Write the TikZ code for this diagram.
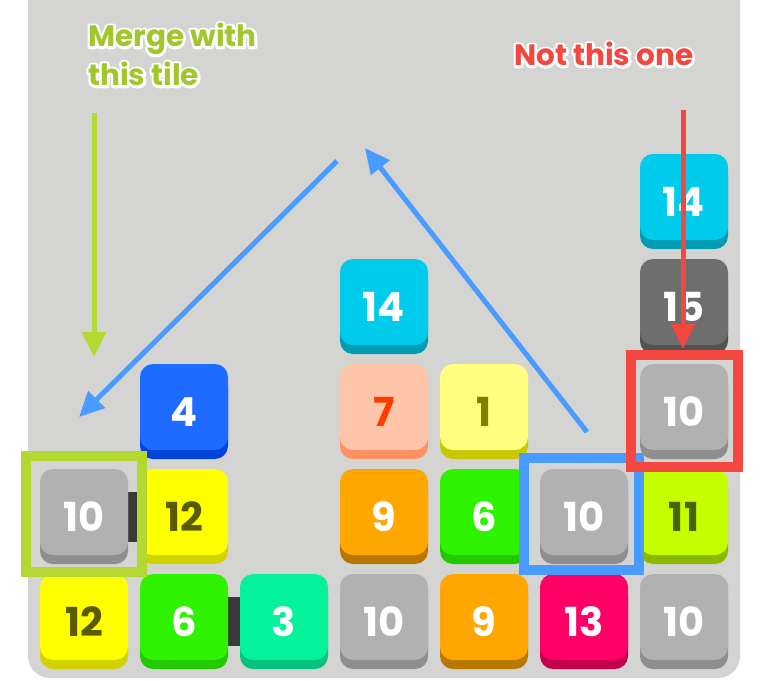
\documentclass[tikz,border=0pt]{standalone}
\usepackage{fontspec}
\setmainfont{Poppins}
\usetikzlibrary{arrows.meta}
\definecolor{board}{HTML}{D4D5D2}
\definecolor{gry}{HTML}{B1B1B1}\definecolor{gryd}{HTML}{8E8E8E}
\definecolor{dgry}{HTML}{6E6E6E}\definecolor{dgryd}{HTML}{525252}
\definecolor{cyn}{HTML}{00CBEB}\definecolor{cynd}{HTML}{009CB4}
\definecolor{blu}{HTML}{1F6BFF}\definecolor{blud}{HTML}{0344D8}
\definecolor{pch}{HTML}{FFC5A8}\definecolor{pchd}{HTML}{FF9062}
\definecolor{lyel}{HTML}{FFFF80}\definecolor{lyeld}{HTML}{C8C800}
\definecolor{yel}{HTML}{FFFF00}\definecolor{yeld}{HTML}{D2D200}
\definecolor{org}{HTML}{FFA600}\definecolor{orgd}{HTML}{B87800}
\definecolor{grn}{HTML}{2EF200}\definecolor{grnd}{HTML}{22C800}
\definecolor{mnt}{HTML}{05F29B}\definecolor{mntd}{HTML}{06C282}
\definecolor{pnk}{HTML}{FF0066}\definecolor{pnkd}{HTML}{C2004E}
\definecolor{lim}{HTML}{C4FF00}\definecolor{limd}{HTML}{8DB800}
\definecolor{olv}{HTML}{5A5A00}\definecolor{olv2}{HTML}{808000}
\definecolor{olv3}{HTML}{4A6400}\definecolor{rednum}{HTML}{FF3C00}
\definecolor{mergegreen}{HTML}{A2C72C}\definecolor{arrowgreen}{HTML}{B4D832}
\definecolor{arrowblue}{HTML}{4A9BFF}\definecolor{arrowred}{HTML}{F4473F}
\definecolor{bar}{HTML}{3A3A3A}
% tile: (column,row)(face:shadow:text){number}
\def\tile(#1,#2)(#3:#4:#5)#6{%
	\fill[#4, rounded corners=13] ({40+100*#1},{583-105*#2}) rectangle ({128+100*#1},{669-105*#2});
	\fill[#3, rounded corners=13] ({40+100*#1},{574-105*#2}) rectangle ({128+100*#1},{660-105*#2});
	\node[tilenum, text=#5] (t#1#2) at ({84+100*#1},{636-105*#2}) {#6};}
% white halo behind a word: stroked glyphs, then filled glyphs
\def\halo#1{\leavevmode\rlap{\color{white}\special{pdf:code 1 Tr 5 w 1 j}#1\special{pdf:code 0 Tr}}#1}

\begin{document}
\begin{tikzpicture}[x=1pt, y=-1pt,
	tilenum/.style={anchor=base, font=\fontsize{40}{40}\selectfont\bfseries, inner sep=0},
	hint/.style={font=\fontsize{29.5}{39}\selectfont\bfseries, align=left, inner sep=0, anchor=north west},
	frame/.style={line width=10pt},
	pointer/.style={line width=5pt, -{Triangle[length=25pt, width=23pt]}}]
		%%%%% START %%%%%
		\useasboundingbox (0, 0) rectangle (768, 680);
		\clip (0, 0) rectangle (768, 680);
		\fill[white] (0, 0) rectangle (768, 680);
		\fill[board, rounded corners=22] (28, -40) rectangle (740, 678);
		
		% connecting bars
		\fill[bar] (126, 492) rectangle (141, 542);
		\fill[bar] (226, 597) rectangle (242, 646);
		
		% bottom row
		\tile(0,0)(yel:yeld:olv){12}
		\tile(1,0)(grn:grnd:white){6}
		\tile(2,0)(mnt:mntd:white){3}
		\tile(3,0)(gry:gryd:white){10}
		\tile(4,0)(org:orgd:white){9}
		\tile(5,0)(pnk:pnkd:white){13}
		\tile(6,0)(gry:gryd:white){10}
		
		\tile(0,1)(gry:gryd:white){10}
		\tile(1,1)(yel:yeld:olv){12}
		\tile(3,1)(org:orgd:white){9}
		\tile(4,1)(grn:grnd:white){6}
		\tile(5,1)(gry:gryd:white){10}
		\tile(6,1)(lim:limd:olv3){11}
		
		\tile(1,2)(blu:blud:white){4}
		\tile(3,2)(pch:pchd:rednum){7}
		\tile(4,2)(lyel:lyeld:olv2){1}
		\tile(6,2)(gry:gryd:white){10}
		
		\tile(3,3)(cyn:cynd:white){14}
		\tile(6,3)(dgry:dgryd:white){15}
		
		\tile(6,4)(cyn:cynd:white){14}
		
		% frames
		\draw[frame, color=arrowgreen] (26, 456) rectangle (142, 572);
		\draw[frame, color=arrowblue] (524, 458) rectangle (639, 570);
		\draw[frame, color=arrowred] (631, 355) rectangle (738, 467);
		
		% labels
		\node[hint, text=mergegreen] (merge) at (88, 23) {\halo{Merge with}\\\halo{this tile}};
		\node[hint, text=arrowred] (notthis) at (514, 42) {\halo{Not this one}};
		
		% arrows
		\coordinate (gtop) at (94, 113);
		\coordinate (gtip) at (94, 357);
		\coordinate (rtop) at (683, 110);
		\coordinate (rtip) at (683, 349);
		\coordinate (apex) at (365, 148);
		\coordinate (btail) at (587, 432);
		\coordinate (ltail) at (337, 161);
		\coordinate (ltip) at (79, 417);
		\draw[pointer, color=arrowgreen] (gtop) -- (gtip);
		\draw[pointer, color=arrowred] (rtop) -- (rtip);
		\draw[pointer, color=arrowblue] (btail) -- (apex);
		\draw[pointer, color=arrowblue] (ltail) -- (ltip);
		%%%%% END %%%%%
\end{tikzpicture}
\end{document}
